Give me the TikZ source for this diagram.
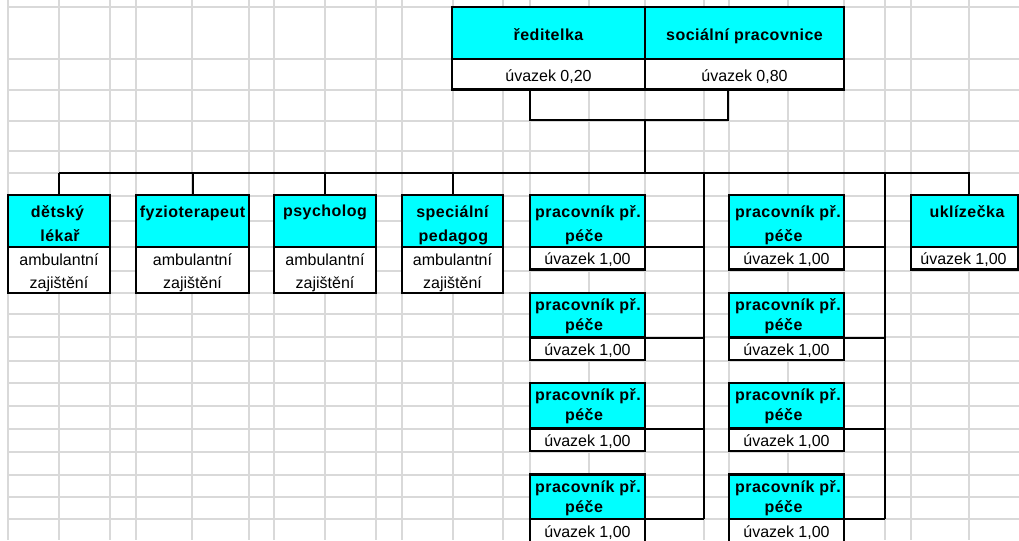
\documentclass[tikz,border=0pt]{standalone}
\usepackage{fontspec}
\setmainfont{Liberation Sans}[BoldFeatures={LetterSpace=3}]
\usetikzlibrary{fit}
\definecolor{boxcyan}{RGB}{0,255,255}
\definecolor{gridgray}{RGB}{217,217,217}
\tikzset{
  gridline/.style={draw=gridgray, line width=0.9pt},
  boxc/.style={draw=black, line width=2.2pt, fill=boxcyan, inner sep=0pt, outer sep=0pt},
  boxw/.style={draw=black, line width=2.2pt, fill=white, inner sep=0pt, outer sep=0pt},
  conn/.style={draw=black, line width=1.5pt, line join=miter},
  lbl/.style={anchor=base, inner sep=0pt, font=\fontsize{12}{14}\selectfont},
  blbl/.style={anchor=base, inner sep=0pt, font=\fontsize{12}{14}\selectfont\bfseries},
}
\begin{document}
\begin{tikzpicture}[x=0.75pt,y=-0.75pt]
\useasboundingbox (0,0) rectangle (1019,540);
\clip (0,0) rectangle (1019,540);
\fill[white] (0,0) rectangle (1019,540);
% spreadsheet grid
\foreach \gx in {8,59,110,136,192,249,274,325,376,402,453,503,530,589,645,704,729,788,844,885,911,969}
  \draw[gridline] (\gx,0) -- (\gx,540);
\foreach \gy in {7,59,90,121,151,173,196,221,247,271,293,314,337,361,383,406,429,452,475,497,519}
  \draw[gridline] (8,\gy) -- (1019,\gy);

% junction coordinates
\coordinate (jr) at (530,120);
\coordinate (js) at (728,120);
\coordinate (jt) at (645,120);
\coordinate (bus) at (645,173);
\coordinate (ukj) at (969,173);
\coordinate (c1) at (704,173);
\coordinate (c2) at (885,173);

% top boxes
\node[boxc, fit={(452,7) (645,59)}] (rh) {};
\node[boxw, fit={(452,59) (645,89.5)}] (rw) {};
\node[boxc, fit={(645,7) (844,59)}] (sh) {};
\node[boxw, fit={(645,59) (844,89.5)}] (sw) {};
\node[blbl] (rt1) at (548.5,40.5) {ředitelka};
\node[lbl] (rt2) at (548.5,81.5) {úvazek 0,20};
\node[blbl] (st1) at (744.5,40.5) {sociální pracovnice};
\node[lbl] (st2) at (744.5,81.5) {úvazek 0,80};

% side boxes
\node[boxc, fit={(8,195) (110,247)}] (dlh) {};
\node[boxw, fit={(8,247) (110,293)}] (dlw) {};
\node[boxc, fit={(136,195) (249,247)}] (fzh) {};
\node[boxw, fit={(136,247) (249,293)}] (fzw) {};
\node[boxc, fit={(274,195) (376,247)}] (psh) {};
\node[boxw, fit={(274,247) (376,293)}] (psw) {};
\node[boxc, fit={(402,195) (503,247)}] (sph) {};
\node[boxw, fit={(402,247) (503,293)}] (spw) {};
\node[boxc, fit={(911,195) (1018,247)}] (ukh) {};
\node[boxw, fit={(911,247) (1018,269.5)}] (ukw) {};

\node[blbl] (dl1) at (57.5,217) {dětský};
\node[blbl] (dl2) at (60,241) {lékař};
\node[lbl] (dl3) at (59,265) {ambulantní};
\node[lbl] (dl4) at (59,288) {zajištění};
\node[blbl] (fz1) at (192.5,217) {fyzioterapeut};
\node[lbl] (fz3) at (192.5,265) {ambulantní};
\node[lbl] (fz4) at (192.5,288) {zajištění};
\node[blbl] (ps1) at (325,216) {psycholog};
\node[lbl] (ps3) at (325,265) {ambulantní};
\node[lbl] (ps4) at (325,288) {zajištění};
\node[blbl] (sp1) at (452.5,217) {speciální};
\node[blbl] (sp2) at (453.5,241) {pedagog};
\node[lbl] (sp3) at (452.5,265) {ambulantní};
\node[lbl] (sp4) at (452.5,288) {zajištění};
\node[blbl] (uk1) at (967,217.5) {uklízečka};
\node[lbl] (uk2) at (963.5,264.5) {úvazek 1,00};

% care workers
\foreach \i/\ta/\tm/\tb/\la/\lb/\lc in {1/195/247/269.5/217/241/264.5, 2/293/337.5/360/310.7/330.7/355.3, 3/383/428.5/451/400.5/420.7/446, 4/474.5/519/542/492.3/512.3/537.7}{
  \node[boxc, fit={(530,\ta) (645,\tm)}] (p\i h) {};
  \node[boxw, fit={(530,\tm) (645,\tb)}] (p\i w) {};
  \node[boxc, fit={(729,\ta) (844,\tm)}] (q\i h) {};
  \node[boxw, fit={(729,\tm) (844,\tb)}] (q\i w) {};
  \node[blbl] (p\i a) at (588,\la) {pracovník př.};
  \node[blbl] (p\i b) at (584,\lb) {péče};
  \node[lbl] (p\i c) at (587.5,\lc) {úvazek 1,00};
  \node[blbl] (q\i a) at (788,\la) {pracovník př.};
  \node[blbl] (q\i b) at (783.5,\lb) {péče};
  \node[lbl] (q\i c) at (786.5,\lc) {úvazek 1,00};
  \draw[conn] (p\i h.south east) -- (p\i h.south east -| c1);
  \draw[conn] (q\i h.south east) -- (q\i h.south east -| c2);
}

% connectors
\draw[conn] (rw.south -| jr) -- (jr) -- (js) -- (sw.south -| js);
\draw[conn] (jt) -- (bus);
\draw[conn] (dlh.north |- bus) -- (ukj) -- (ukj |- ukh.north);
\draw[conn] (dlh.north |- bus) -- (dlh.north);
\draw[conn] (fzh.north |- bus) -- (fzh.north);
\draw[conn] (psh.north |- bus) -- (psh.north);
\draw[conn] (sph.north |- bus) -- (sph.north);
\draw[conn] (c1) -- (c1 |- p4h.south east);
\draw[conn] (c2) -- (c2 |- q4h.south east);
\end{tikzpicture}
\end{document}
